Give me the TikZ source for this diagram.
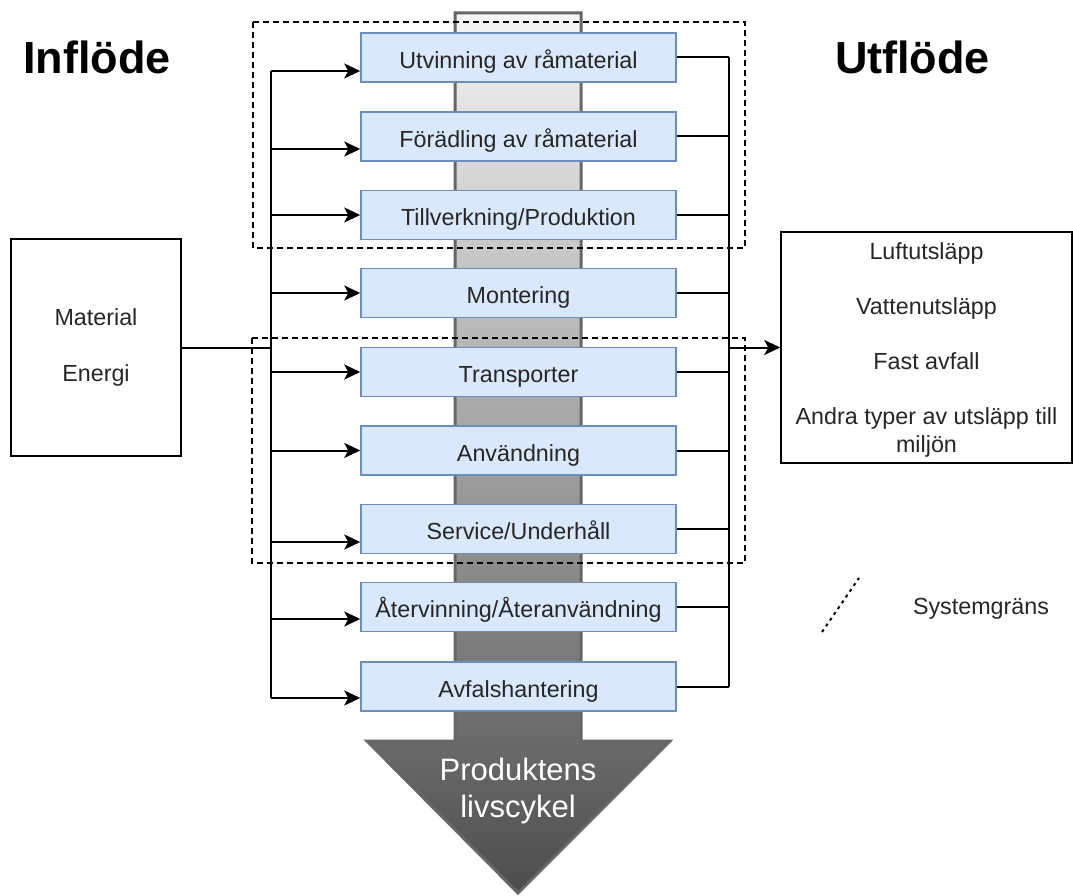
\documentclass[tikz,border=0pt]{standalone}
\usepackage{fontspec}
\setmainfont{Liberation Sans}
\usetikzlibrary{arrows.meta}

\definecolor{stagefill}{HTML}{DAE8FC}
\definecolor{stageline}{HTML}{6C8EBF}
\definecolor{shafttop}{HTML}{F5F5F5}
\definecolor{shaftbot}{HTML}{4D4D4D}
\definecolor{shaftline}{HTML}{666666}
\definecolor{txt}{HTML}{262626}

\tikzset{
  stage/.style={draw=stageline, fill=stagefill, line width=1.5pt, minimum width=315pt,
    minimum height=49pt, inner sep=0pt, text=txt, font=\fontsize{23.3}{28}\selectfont,
    text height=23pt, text depth=1.5pt},
  plainbox/.style={draw=black, line width=1.5pt, inner sep=0pt, align=center, text=txt,
    font=\fontsize{23.3}{28}\selectfont},
  wire/.style={draw=black, line width=2pt},
  flow/.style={wire, -{Stealth[length=16pt, width=15pt, inset=4pt]}},
  sysbound/.style={draw=black, line width=1.5pt, dash pattern=on 6pt off 4pt},
  heading/.style={font=\fontsize{45}{54}\selectfont\bfseries, anchor=base}
}

\begin{document}
\begin{tikzpicture}[x=1pt, y=-1pt]
\useasboundingbox (0,0) rectangle (1073,896);

% life cycle arrow
\draw[draw=shaftline, line width=3pt, top color=shafttop, bottom color=shaftbot]
  (455,13) -- (581,13) -- (581,741) -- (670,741) -- (518,893) -- (367,741) -- (455,741) -- cycle;
\node[white, font=\fontsize{31}{37}\selectfont, align=center] (cyclelabel) at (518,791) {Produktens\\livscykel};

% system boundaries
\draw[sysbound] (253,22) rectangle (745,248);
\draw[sysbound] (252,338) rectangle (745,563);

% titles
\node[heading] (inflow) at (97,74) {Inflöde};
\node[heading] (outflow) at (912.5,74) {Utflöde};

% stages
\node[stage] (s1) at (518.5,57.5) {Utvinning av råmaterial};
\node[stage] (s2) at (518.5,136.5) {Förädling av råmaterial};
\node[stage] (s3) at (518.5,215) {Tillverkning/Produktion};
\node[stage] (s4) at (518.5,293) {Montering};
\node[stage] (s5) at (518.5,372) {Transporter};
\node[stage] (s6) at (518.5,450.5) {Användning};
\node[stage] (s7) at (518.5,529) {Service/Underhåll};
\node[stage] (s8) at (518.5,607) {Återvinning/Återanvändning};
\node[stage] (s9) at (518.5,686.5) {Avfalshantering};

% in and out
\node[plainbox, minimum width=170pt, minimum height=217pt] (src) at (96,347.5) {Material\\[28pt]Energi};
\node[plainbox, minimum width=291pt, minimum height=231pt, text depth=0pt] (dst) at (926.5,347.5)
  {Luftutsläpp\\[27pt]Vattenutsläpp\\[27pt]Fast avfall\\[27pt]Andra typer av utsläpp till\\miljön};

% buses
\coordinate (inTop) at (271,71);
\coordinate (inBot) at (271,698);
\coordinate (outTop) at (729,57.5);
\coordinate (outBot) at (729,686.5);
\draw[wire] (inTop) -- (inBot);
\draw[wire] (outTop) -- (outBot);
\draw[wire] (src.east) -- (src.east -| inTop);

\draw[flow] ([yshift=-13.5pt]s1.west -| inTop) -- ([yshift=-13.5pt]s1.west);
\draw[flow] ([yshift=-12.5pt]s2.west -| inTop) -- ([yshift=-12.5pt]s2.west);
\draw[flow] (s3.west -| inTop) -- (s3.west);
\draw[flow] (s4.west -| inTop) -- (s4.west);
\draw[flow] (s5.west -| inTop) -- (s5.west);
\draw[flow] (s6.west -| inTop) -- (s6.west);
\draw[flow] ([yshift=-13pt]s7.west -| inTop) -- ([yshift=-13pt]s7.west);
\draw[flow] ([yshift=-12pt]s8.west -| inTop) -- ([yshift=-12pt]s8.west);
\draw[flow] ([yshift=-11.5pt]s9.west -| inTop) -- ([yshift=-11.5pt]s9.west);

\draw[wire] (s1.east) -- (s1.east -| outTop);
\draw[wire] (s2.east) -- (s2.east -| outTop);
\draw[wire] (s3.east) -- (s3.east -| outTop);
\draw[wire] (s4.east) -- (s4.east -| outTop);
\draw[wire] (s5.east) -- (s5.east -| outTop);
\draw[wire] (s6.east) -- (s6.east -| outTop);
\draw[wire] (s7.east) -- (s7.east -| outTop);
\draw[wire] (s8.east) -- (s8.east -| outTop);
\draw[wire] (s9.east) -- (s9.east -| outTop);
\draw[flow] (dst.west -| outTop) -- (dst.west);

% legend
\draw[line width=2pt, dash pattern=on 3pt off 4pt] (822,632) -- (859,578);
\node[text=txt, font=\fontsize{23.3}{28}\selectfont] (legend) at (981,609) {Systemgräns};
\end{tikzpicture}
\end{document}
